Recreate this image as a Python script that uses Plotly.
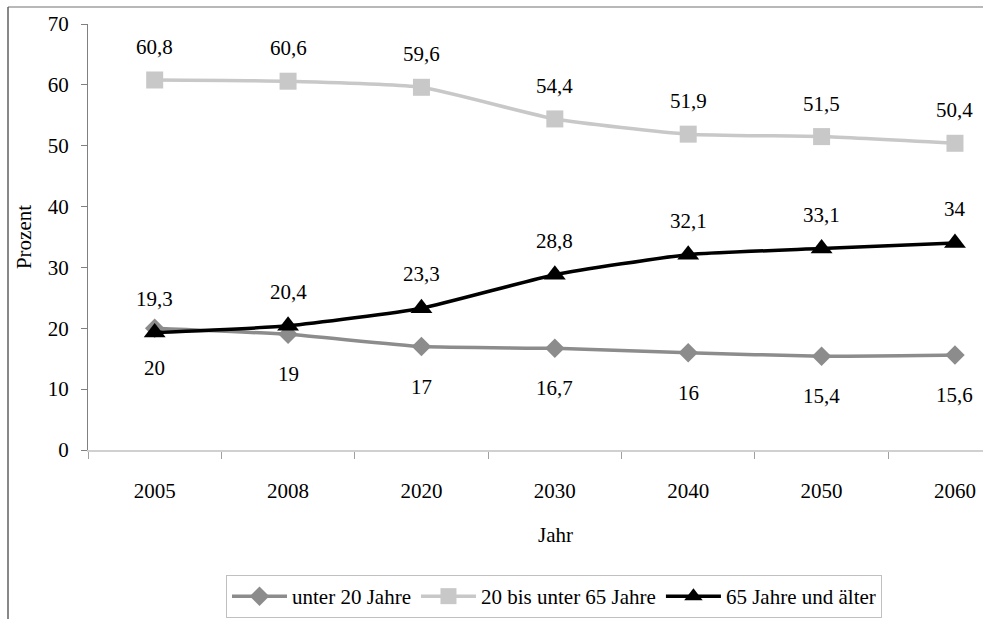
import plotly.graph_objects as go

# Bevölkerung nach Altersgruppen (Anteil in Prozent)
jahre = ["2005", "2008", "2020", "2030", "2040", "2050", "2060"]
unter_20 = [20, 19, 17, 16.7, 16, 15.4, 15.6]
von_20_bis_65 = [60.8, 60.6, 59.6, 54.4, 51.9, 51.5, 50.4]
ab_65 = [19.3, 20.4, 23.3, 28.8, 32.1, 33.1, 34]

y_ticks = [0, 10, 20, 30, 40, 50, 60, 70]

FONT = "Liberation Serif, DejaVu Serif, serif"
FS = 21
W, H = 983, 619
L, R, T, B = 88, 0, 24, 169


def fmt(v):
    return f"{v:g}".replace(".", ",")


series = [
    ("unter 20 Jahre", unter_20, "#8c8c8c", "diamond", 15, -40),
    ("20 bis unter 65 Jahre", von_20_bis_65, "#c8c8c8", "square", 17, 33),
    ("65 Jahre und älter", ab_65, "#000000", "triangle-up", 19, 34),
]

fig = go.Figure()
for name, vals, color, sym, size, shift in series:
    fig.add_trace(go.Scatter(
        x=jahre, y=vals, name=name, mode="lines+markers",
        line=dict(color=color, width=3.5, shape="spline", smoothing=0.5),
        marker=dict(symbol=sym, size=size, color=color),
        cliponaxis=False,
    ))

annotations = []
for name, vals, color, sym, size, shift in series:
    for i, v in enumerate(vals):
        # category index positions on the x axis
        annotations.append(dict(
            x=i, y=v, xref="x", yref="y", text=fmt(v), showarrow=False,
            xanchor="center", yanchor="middle",
            yshift=shift, font=dict(family=FONT, size=FS, color="#000000"),
        ))

plot_w = W - L - R
plot_h = H - T - B
# x-axis title centred under the full category band
annotations.append(dict(
    x=(555 - L) / plot_w, y=(450 - 535) / plot_h, xref="paper", yref="paper",
    xanchor="center", yanchor="middle",
    text="Jahr", showarrow=False, font=dict(family=FONT, size=FS, color="#000000"),
))

shapes = [
    # outer chart frame (left and top edges)
    dict(type="line", xref="paper", yref="paper",
         x0=(8 - L) / plot_w, x1=(W + 5 - L) / plot_w,
         y0=(450 - 7) / plot_h, y1=(450 - 7) / plot_h,
         line=dict(color="#a0a0a0", width=1.5)),
    dict(type="line", xref="paper", yref="paper",
         x0=(8 - L) / plot_w, x1=(8 - L) / plot_w,
         y0=(450 - 7) / plot_h, y1=(450 - H - 5) / plot_h,
         line=dict(color="#606060", width=1.5)),
]

fig.update_layout(
    width=W, height=H,
    margin=dict(l=L, r=R, t=T, b=B),
    paper_bgcolor="white", plot_bgcolor="white",
    font=dict(family=FONT, size=FS, color="#000000"),
    showlegend=True,
    legend=dict(
        orientation="h", x=(226 - L) / plot_w, y=(450 - 575) / plot_h,
        xanchor="left", yanchor="top",
        bordercolor="#c0c0c0", borderwidth=1,
        font=dict(family=FONT, size=FS), itemwidth=55,
        tracegroupgap=0,
    ),
    annotations=annotations,
    shapes=shapes,
    xaxis=dict(
        type="category", range=[-0.5, (W - 155) / 133.33],
        showgrid=False, zeroline=False,
        showline=True, linecolor="#d0d0d0", linewidth=2,
        ticks="outside", tickson="boundaries", ticklen=7, tickcolor="#a0a0a0",
        ticklabelstandoff=21,
        tickfont=dict(family=FONT, size=FS),
    ),
    yaxis=dict(
        range=[0, 70], tickvals=y_ticks,
        showgrid=False, zeroline=False,
        showline=True, linecolor="#808080", linewidth=1,
        ticks="outside", ticklen=6, tickcolor="#808080",
        ticklabelstandoff=8,
        tickfont=dict(family=FONT, size=FS),
        title=dict(text="Prozent", font=dict(family=FONT, size=FS), standoff=10),
    ),
)

fig.write_html("out.html")
